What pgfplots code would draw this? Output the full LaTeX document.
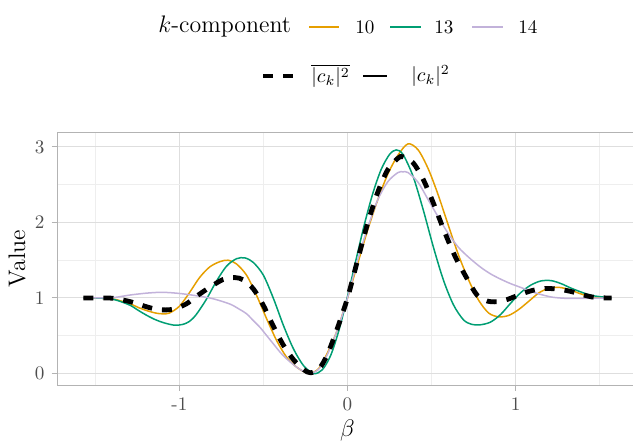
\documentclass[border=0pt]{standalone}
\usepackage{pgfplots}
\usepackage{pgfplotstable}
\pgfplotsset{compat=1.18}
\definecolor{c10}{HTML}{E69F00}
\definecolor{c13}{HTML}{009E73}
\definecolor{c14}{HTML}{C2B2DA}
\definecolor{gridmaj}{HTML}{DEDEDE}
\definecolor{gridmin}{HTML}{EEEEEE}
\definecolor{border}{HTML}{B3B3B3}
\definecolor{ticktext}{HTML}{4D4D4D}
\newcommand{\ticksize}{\fontsize{9.6}{11}\selectfont}
\newcommand{\titlesize}{\fontsize{12}{14}\selectfont}

\pgfplotstableread{
x y
-1.5708 1.0
-1.50 1.0
-1.45 0.995
-1.39 0.985
-1.34 0.955
-1.29 0.92
-1.24 0.87
-1.19 0.83
-1.14 0.80
-1.10 0.79
-1.06 0.80
-1.00 0.89
-0.94 1.07
-0.88 1.27
-0.82 1.41
-0.76 1.48
-0.71 1.50
-0.66 1.45
-0.60 1.30
-0.54 1.03
-0.48 0.72
-0.42 0.43
-0.36 0.21
-0.30 0.08
-0.25 0.015
-0.22 0.0
-0.17 0.07
-0.12 0.27
-0.06 0.58
0 1.0
0.06 1.45
0.12 1.90
0.18 2.30
0.24 2.64
0.30 2.89
0.36 3.04
0.42 2.96
0.48 2.71
0.54 2.36
0.60 1.96
0.66 1.57
0.72 1.24
0.78 0.97
0.84 0.80
0.90 0.75
0.96 0.77
1.02 0.85
1.08 0.96
1.14 1.07
1.20 1.13
1.26 1.14
1.32 1.11
1.38 1.06
1.44 1.02
1.50 1.0
1.5708 1.0
}\tabA

\pgfplotstableread{
x y
-1.5708 1.0
-1.50 1.0
-1.45 0.995
-1.39 0.98
-1.34 0.945
-1.29 0.90
-1.24 0.83
-1.19 0.765
-1.14 0.71
-1.09 0.67
-1.03 0.64
-0.98 0.65
-0.94 0.69
-0.90 0.78
-0.84 0.98
-0.78 1.22
-0.72 1.42
-0.66 1.52
-0.61 1.53
-0.56 1.47
-0.50 1.30
-0.44 0.99
-0.38 0.63
-0.32 0.32
-0.26 0.10
-0.20 0.0
-0.15 0.05
-0.10 0.24
-0.05 0.58
0 1.02
0.05 1.50
0.10 1.97
0.15 2.38
0.20 2.70
0.25 2.90
0.29 2.96
0.33 2.90
0.39 2.61
0.45 2.17
0.51 1.68
0.57 1.24
0.63 0.91
0.69 0.71
0.74 0.65
0.79 0.645
0.85 0.68
0.91 0.78
0.97 0.93
1.03 1.07
1.09 1.17
1.15 1.225
1.21 1.23
1.27 1.19
1.33 1.13
1.40 1.07
1.46 1.03
1.5708 1.0
}\tabB

\pgfplotstableread{
x y
-1.5708 1.0
-1.45 1.0
-1.39 1.005
-1.29 1.04
-1.19 1.065
-1.10 1.075
-1.00 1.06
-0.90 1.03
-0.80 0.99
-0.70 0.92
-0.65 0.86
-0.60 0.79
-0.56 0.70
-0.52 0.61
-0.48 0.50
-0.44 0.39
-0.40 0.28
-0.36 0.19
-0.30 0.08
-0.25 0.015
-0.22 0.0
-0.17 0.06
-0.12 0.25
-0.06 0.58
0 1.0
0.06 1.50
0.12 1.93
0.18 2.30
0.24 2.54
0.30 2.66
0.33 2.67
0.36 2.66
0.42 2.53
0.48 2.30
0.54 2.07
0.60 1.85
0.66 1.67
0.72 1.54
0.79 1.41
0.85 1.32
0.91 1.25
0.97 1.19
1.03 1.14
1.10 1.08
1.16 1.04
1.22 1.01
1.30 0.995
1.40 0.995
1.5708 1.0
}\tabC

\pgfplotstableread{
x y
-1.5708 1.0
-1.45 1.0
-1.39 0.995
-1.29 0.95
-1.19 0.88
-1.12 0.845
-1.04 0.85
-0.96 0.92
-0.90 1.02
-0.82 1.14
-0.74 1.245
-0.67 1.27
-0.62 1.24
-0.56 1.12
-0.50 0.90
-0.44 0.62
-0.38 0.37
-0.32 0.18
-0.26 0.05
-0.22 0.01
-0.17 0.06
-0.12 0.25
-0.06 0.60
0 1.0
0.06 1.50
0.12 1.99
0.18 2.40
0.24 2.70
0.30 2.85
0.33 2.87
0.39 2.79
0.45 2.57
0.51 2.26
0.58 1.86
0.64 1.55
0.71 1.26
0.77 1.04
0.83 0.96
0.89 0.95
0.95 0.98
1.02 1.04
1.10 1.10
1.18 1.125
1.26 1.115
1.34 1.08
1.42 1.03
1.48 1.005
1.5708 1.0
}\tabM

\begin{document}
\begin{tikzpicture}
\begin{axis}[
 at={(0,0)}, anchor=south west,
 scale only axis, width=290.5bp, height=126.5bp,
 xmin=-1.7279, xmax=1.7279, ymin=-0.152, ymax=3.197,
 xtick={-1,0,1}, xticklabels={-1,0,1},
 ytick={0,1,2,3}, yticklabels={0,1,2,3},
 minor xtick={-1.5,-0.5,0.5,1.5}, minor ytick={0.5,1.5,2.5},
 grid=both,
 major grid style={gridmaj, line width=0.5bp},
 minor grid style={gridmin, line width=0.4bp},
 axis line style={border, line width=0.5bp},
 major tick style={border, line width=0.5bp},
 minor tick style={draw=none},
 major tick length=2.75bp,
 tick align=outside,
 xtick pos=bottom, ytick pos=left,
 ticklabel style={font=\ticksize, text=ticktext},
 xlabel={$\beta$}, ylabel={Value},
 label style={font=\titlesize},
 xlabel style={at={(axis description cs:0.5,-0.178)}, anchor=center},
 ylabel style={at={(axis description cs:-0.0688,0.5)}, anchor=center},
]
\addplot[c10, line width=0.75bp, smooth, tension=0.5] table[x=x,y=y] {\tabA};
\addplot[c13, line width=0.75bp, smooth, tension=0.5] table[x=x,y=y] {\tabB};
\addplot[c14, line width=0.75bp, smooth, tension=0.5] table[x=x,y=y] {\tabC};
\addplot[black, line width=2.4bp, dash pattern=on 5bp off 5bp, smooth, tension=0.5] table[x=x,y=y] {\tabM};
\end{axis}
% legend row 1
\node[anchor=west, font=\titlesize, inner sep=0] at (50.5bp,179bp) {$k$-component};
\draw[c10, line width=0.75bp] (126bp,179bp) -- (141bp,179bp);
\node[anchor=west, font=\ticksize, inner sep=0] at (149bp,179bp) {10};
\draw[c13, line width=0.75bp] (166.5bp,179bp) -- (182bp,179bp);
\node[anchor=west, font=\ticksize, inner sep=0] at (188.5bp,179bp) {13};
\draw[c14, line width=0.75bp] (207.5bp,179bp) -- (223bp,179bp);
\node[anchor=west, font=\ticksize, inner sep=0] at (230.5bp,179bp) {14};
% legend row 2
\draw[black, line width=2.4bp, dash pattern=on 5bp off 5bp] (103bp,154.5bp) -- (118bp,154.5bp);
\node[anchor=west, font=\ticksize, inner sep=0] at (127bp,154.5bp) {$\overline{|c_k|^2}$};
\draw[black, line width=0.75bp] (153bp,154.5bp) -- (165bp,154.5bp);
\node[anchor=west, font=\ticksize, inner sep=0] at (177bp,154.5bp) {$|c_k|^2$};
\pgfresetboundingbox
\useasboundingbox (-28.5bp,-29bp) rectangle (288bp,192.5bp);
\end{tikzpicture}
\end{document}
